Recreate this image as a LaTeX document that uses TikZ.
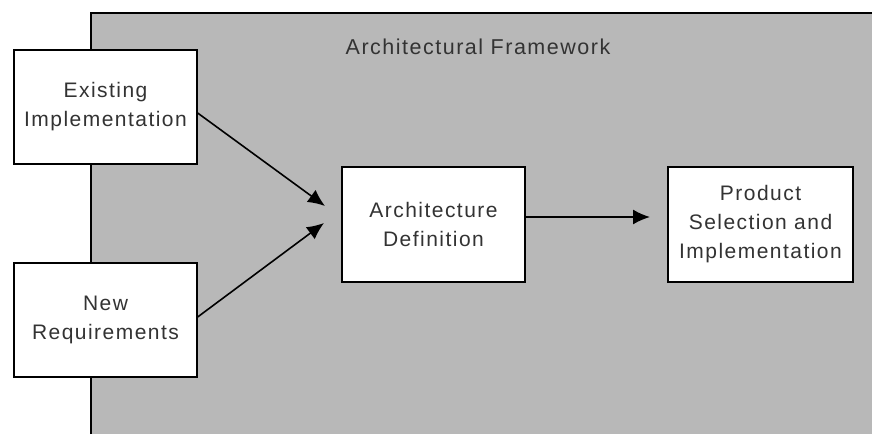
\documentclass[tikz,border=0pt]{standalone}
\usepackage{fontspec}
\setmainfont{Liberation Sans}[LetterSpace=7]
\usetikzlibrary{arrows.meta}
\definecolor{panelgray}{gray}{0.72}
\begin{document}
\begin{tikzpicture}[x=1pt,y=-1pt,
  lbl/.style={font=\fontsize{21}{29}\selectfont, text=black!80},
  card/.style={draw=black, line width=1.3pt, fill=white, inner sep=0pt, align=center, lbl},
  flow/.style={draw=black, line width=1.6pt, -{Latex[length=17pt,width=15pt]}}]
  \useasboundingbox (0,0) rectangle (872,434);
  % shaded framework panel
  \fill[panelgray] (91,13) rectangle (872,434);
  \draw[black, line width=1.4pt] (91,434) -- (91,13) -- (872,13);
  \node[lbl, font=\fontsize{21.5}{29}\selectfont] (title) at (478,47) {Architectural Framework};
  % boxes
  \node[card, minimum width=183pt, minimum height=114pt] (exist) at (105.5,107) {Existing\\Implementation};
  \node[card, minimum width=183pt, minimum height=114pt] (newreq) at (105.5,320) {New\\Requirements};
  \node[card, minimum width=183pt, minimum height=115pt] (arch) at (433.5,224.5) {Architecture\\Definition};
  \node[card, minimum width=185pt, minimum height=115pt] (prod) at (760.5,224.5) {Product\\Selection and\\Implementation};
  % arrow tips
  \coordinate (tipA) at (325,206);
  \coordinate (tipB) at (324,223);
  \coordinate (tipC) at (650,217);
  \draw[flow] ([yshift=-6pt]exist.east) -- (tipA);
  \draw[flow] ([yshift=3pt]newreq.east) -- (tipB);
  \draw[flow] ([yshift=7.5pt]arch.east) -- (tipC);
\end{tikzpicture}
\end{document}
